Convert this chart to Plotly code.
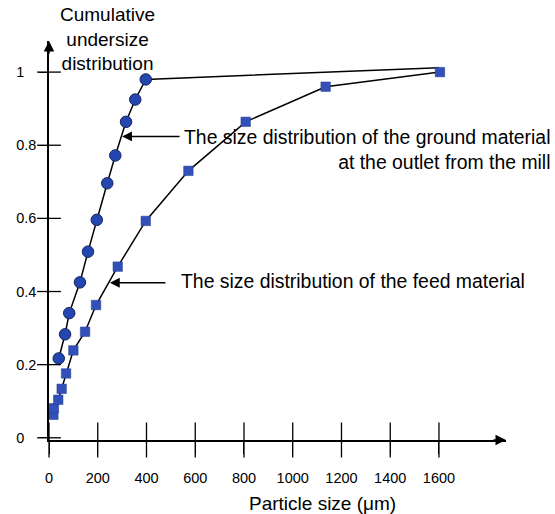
import plotly.graph_objects as go

# ---- data ----
ground_x = [40, 66, 83, 127, 160, 196, 239, 272, 316, 354, 397]
ground_y = [0.217, 0.283, 0.341, 0.425, 0.509, 0.596, 0.696, 0.772, 0.864, 0.925, 0.980]
ground_line_end_x = [1600]
ground_line_end_y = [1.012]

feed_x = [18, 20, 38, 52, 70, 100, 148, 193, 282, 397, 572, 807, 1135, 1604]
feed_y = [0.063, 0.081, 0.104, 0.134, 0.176, 0.239, 0.290, 0.363, 0.468, 0.593, 0.730, 0.864, 0.960, 1.0]

x_ticks = [0, 200, 400, 600, 800, 1000, 1200, 1400, 1600]
x_tick_labels = ["0", "200", "400", "600", "800", "1000", "1200", "1400", "1600"]
y_ticks = [0, 0.2, 0.4, 0.6, 0.8, 1.0]
y_tick_labels = ["0", "0.2", "0.4", "0.6", "0.8", "1"]

FONT = "Liberation Sans, Arial, sans-serif"
NB = "\u00a0"
# left-align y labels visually by padding short ones
y_text = [t + NB * 3 if len(t) == 1 else t for t in y_tick_labels]

X_RANGE = [0, 1875]
Y_RANGE = [-0.006, 1.085]

fig = go.Figure()

# ground material line (through circles, then to top right)
fig.add_trace(go.Scatter(
    x=ground_x + ground_line_end_x, y=ground_y + ground_line_end_y,
    mode="lines", line=dict(color="black", width=1.5),
    hoverinfo="skip", showlegend=False, cliponaxis=False))
# feed material line + squares
fig.add_trace(go.Scatter(
    x=feed_x, y=feed_y, mode="lines+markers",
    line=dict(color="black", width=1.5),
    marker=dict(symbol="square", size=9.5, color="#3150b8",
                line=dict(color="#2a3f90", width=0.5)),
    showlegend=False, cliponaxis=False))
# ground circles
fig.add_trace(go.Scatter(
    x=ground_x, y=ground_y, mode="markers",
    marker=dict(symbol="circle", size=11.5, color="#2446b0",
                line=dict(color="#15245a", width=1)),
    showlegend=False, cliponaxis=False))

# crossing tick marks placed through the axes' own scales
fig.add_trace(go.Scatter(
    x=x_ticks, y=[Y_RANGE[0]] * len(x_ticks), mode="markers",
    marker=dict(symbol="line-ns", size=25, line=dict(color="black", width=1.3)),
    hoverinfo="skip", showlegend=False, cliponaxis=False))
fig.add_trace(go.Scatter(
    x=[X_RANGE[0]] * len(y_ticks), y=y_ticks, mode="markers",
    marker=dict(symbol="line-ew", size=17, line=dict(color="black", width=1.3)),
    hoverinfo="skip", showlegend=False, cliponaxis=False))

axis_common = dict(showgrid=False, zeroline=False)
fig.update_layout(
    width=555, height=514,
    margin=dict(l=49, r=49, t=41, b=74),
    paper_bgcolor="white", plot_bgcolor="white",
    font=dict(family=FONT, color="black"),
    xaxis=dict(range=X_RANGE, tickvals=x_ticks, ticktext=x_tick_labels,
               ticks="outside", ticklen=12, tickwidth=1.3, tickcolor="black",
               ticklabelstandoff=12,
               showline=True, linecolor="black", linewidth=1.5,
               tickfont=dict(size=14.5, family=FONT), **axis_common),
    yaxis=dict(range=Y_RANGE, tickvals=y_ticks, ticktext=y_text,
               ticks="outside", ticklen=8, tickwidth=1.3, tickcolor="black",
               showline=True, linecolor="black", linewidth=1.5,
               tickfont=dict(size=14.5, family=FONT), **axis_common),
)

annotations = [
    # axis arrowheads
    dict(x=X_RANGE[1], y=Y_RANGE[0], xref="x", yref="y", ax=-14, ay=0,
         text="", showarrow=True, arrowhead=2, arrowsize=1.4, arrowwidth=1.5,
         arrowcolor="black"),
    dict(x=0, y=Y_RANGE[1], xref="x", yref="y", ax=0, ay=14,
         text="", showarrow=True, arrowhead=2, arrowsize=1.4, arrowwidth=1.5,
         arrowcolor="black"),
    # pointer arrows
    dict(x=300, y=0.824, xref="x", yref="y", ax=542, ay=0.824,
         axref="x", ayref="y", text="", showarrow=True, arrowhead=2,
         arrowsize=1.4, arrowwidth=1.4, arrowcolor="black"),
    dict(x=250, y=0.424, xref="x", yref="y", ax=484, ay=0.424,
         axref="x", ayref="y", text="", showarrow=True, arrowhead=2,
         arrowsize=1.4, arrowwidth=1.4, arrowcolor="black"),
    # texts
    dict(x=545, y=0.824, xref="x", yref="y", xanchor="left", yanchor="top",
         yshift=12, align="right", showarrow=False,
         text="The size distribution of the ground material<br>at the outlet from the mill",
         font=dict(size=19.4, family=FONT)),
    dict(x=535, y=0.430, xref="x", yref="y", xanchor="left", yanchor="middle",
         showarrow=False, text="The size distribution of the feed material",
         font=dict(size=19.4, family=FONT)),
    dict(x=1122, y=-0.158, xref="x", yref="paper", xanchor="center",
         yanchor="middle", showarrow=False, text="Particle size (\u03bcm)",
         font=dict(size=19, family=FONT)),
    dict(x=107, y=39, xref="paper", yref="paper", xanchor="center",
         yanchor="middle", showarrow=False,
         text="Cumulative<br>undersize<br>distribution",
         font=dict(size=19, family=FONT)),
]
# convert title position from pixels to paper coords
annotations[-1]["x"] = (107 - 49) / (555 - 49 - 49)
annotations[-1]["y"] = (514 - 74 - 39) / (514 - 41 - 74)
fig.update_layout(annotations=annotations)

fig.write_html("out.html")
